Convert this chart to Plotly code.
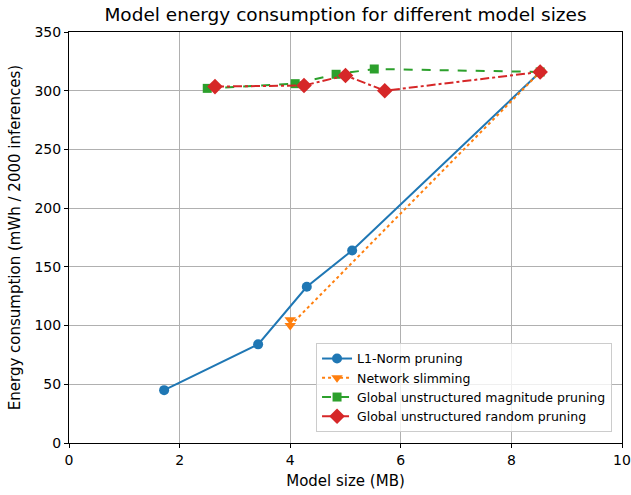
import plotly.graph_objects as go

l1_x = [1.72, 3.42, 4.30, 5.12, 8.52]
l1_y = [45, 84, 133, 164, 316]
ns_x = [4.0, 4.0, 8.52]
ns_y = [105, 100, 316]
gm_x = [2.5, 4.09, 4.83, 5.52, 8.52]
gm_y = [302, 306, 314, 318.5, 316]
gr_x = [2.64, 4.25, 5.0, 5.71, 8.52]
gr_y = [303.5, 304.5, 313, 300, 316]

fig = go.Figure()
fig.add_trace(go.Scatter(x=l1_x, y=l1_y, mode="lines+markers", name="L1-Norm pruning",
                         line=dict(color="#1f77b4", width=2), marker=dict(symbol="circle", size=10)))
fig.add_trace(go.Scatter(x=ns_x, y=ns_y, mode="lines+markers", name="Network slimming",
                         line=dict(color="#ff7f0e", width=2, dash="dot"), marker=dict(symbol="triangle-down", size=10)))
fig.add_trace(go.Scatter(x=gm_x, y=gm_y, mode="lines+markers", name="Global unstructured magnitude pruning",
                         line=dict(color="#2ca02c", width=2, dash="dash"), marker=dict(symbol="square", size=9)))
fig.add_trace(go.Scatter(x=gr_x, y=gr_y, mode="lines+markers", name="Global unstructured random pruning",
                         line=dict(color="#d62728", width=2, dash="dashdot"), marker=dict(symbol="diamond", size=12)))

axis_common = dict(showline=True, linecolor="black", linewidth=1, mirror=True, ticks="outside",
                   ticklen=4, tickcolor="black", showgrid=True, gridcolor="#b0b0b0", gridwidth=1,
                   zeroline=False, tickfont=dict(size=14, color="black"), automargin=False)
fig.update_layout(
    width=631, height=495,
    margin=dict(l=69, r=9, t=32, b=52),
    paper_bgcolor="white", plot_bgcolor="white",
    font=dict(family="DejaVu Sans", color="black"),
    title=dict(text="Model energy consumption for different model sizes", x=(69 + 622) / 2 / 631, xanchor="center",
               y=1 - 15/495, yanchor="middle", font=dict(size=18.5)),
    xaxis=dict(range=[0, 10], dtick=2, title=dict(text="Model size (MB)", font=dict(size=15), standoff=8), **axis_common),
    yaxis=dict(range=[0, 350], dtick=50, title=dict(text="Energy consumption (mWh / 2000 inferences)", font=dict(size=15), standoff=10), **axis_common),
    legend=dict(x=0.982, xanchor="right", y=0.027, yanchor="bottom", bgcolor="rgba(255,255,255,0.8)",
                bordercolor="#cccccc", borderwidth=1, font=dict(size=12.5), tracegroupgap=0, itemwidth=30),
    showlegend=True,
)
fig.write_html("out.html")
